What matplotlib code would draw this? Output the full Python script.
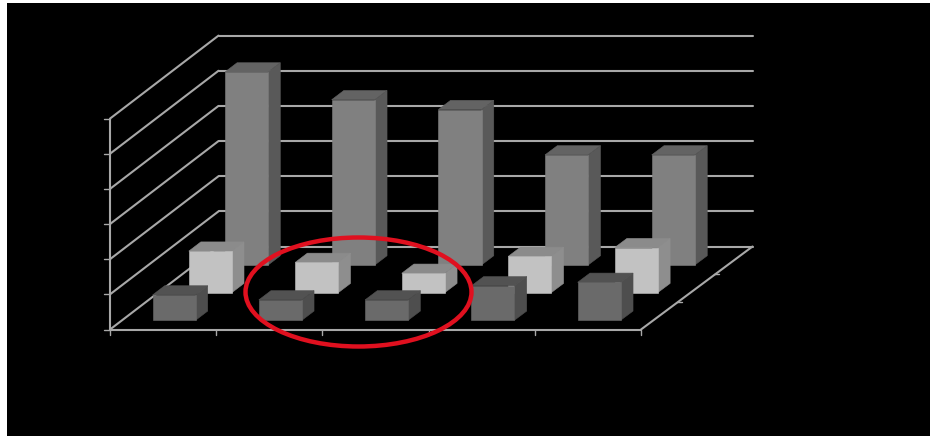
import matplotlib
matplotlib.use("Agg")
import matplotlib.pyplot as plt
from matplotlib.patches import Ellipse, Polygon

# Data (value axis has 6 unlabelled intervals)
categories = [0, 1, 2, 3, 4]
front_values = [0.72, 0.58, 0.58, 0.98, 1.08]
middle_values = [1.18, 0.86, 0.55, 1.03, 1.28]
back_values = [5.49, 4.70, 4.42, 3.13, 3.13]
value_ticks = [0, 1, 2, 3, 4, 5, 6]

# Oblique projection of the 3D chart box (slight widening towards the right)
X0, Y0 = 110, 329.5
CAT_W = 106.2
DEPTH_DX, DEPTH_DY = 108.5, -83.0
DEPTH_SKEW = 0.6
VAL_H = 35.15
BAR_W = 0.405
BAR_OFF = 0.287


def proj(cat, depth, val):
    return (X0 + cat * CAT_W + depth * (DEPTH_DX + cat * DEPTH_SKEW),
            Y0 + depth * DEPTH_DY - val * VAL_H)


W, H = 930, 436
fig = plt.figure(figsize=(W / 100, H / 100), dpi=100, facecolor="white")
ax = fig.add_axes([7 / W, 0, (W - 7) / W, (H - 3) / H])
ax.set_xlim(7, W)
ax.set_ylim(H, 3)
ax.set_facecolor("black")
ax.set_xticks([])
ax.set_yticks([])
for s in ax.spines.values():
    s.set_visible(False)

LINE = "#a8a8a8"
LW = 1.5


def seg(a, b, lw=LW, z=1):
    ax.plot([a[0], b[0]], [a[1], b[1]], color=LINE, lw=lw, zorder=z,
            solid_capstyle="round")


n_cat = len(categories)
for v in value_ticks:
    seg(proj(0, 0, v), proj(0, 1, v))
    seg(proj(0, 1, v), proj(n_cat, 1, v))
    x, y = proj(0, 0, v)
    seg((x - 6, y), (x, y), lw=1.0)
seg(proj(0, 0, 0), proj(0, 0, value_ticks[-1]))
seg(proj(0, 0, 0), proj(n_cat, 0, 0))
seg(proj(n_cat, 0, 0), proj(n_cat, 1, 0))
for c in range(n_cat + 1):
    x, y = proj(c, 0, 0)
    seg((x, y), (x, y + 5), lw=1.0)
for d in (1 / 3, 2 / 3):
    x, y = proj(n_cat, d, 0)
    seg((x - 1, y), (x + 4, y), lw=1.0)


def bar(cat, row, val, front, top, side, z):
    d0 = (row + 1 / 3) / 3
    d1 = (row + 2 / 3) / 3
    c0 = cat + BAR_OFF
    c1 = c0 + BAR_W
    ax.add_patch(Polygon([proj(c0, d0, val), proj(c1, d0, val),
                          proj(c1, d1, val), proj(c0, d1, val)],
                         closed=True, fc=top, ec=top, lw=0.4, zorder=z))
    ax.add_patch(Polygon([proj(c1, d0, 0), proj(c1, d1, 0),
                          proj(c1, d1, val), proj(c1, d0, val)],
                         closed=True, fc=side, ec=side, lw=0.4, zorder=z))
    ax.add_patch(Polygon([proj(c0, d0, 0), proj(c1, d0, 0),
                          proj(c1, d0, val), proj(c0, d0, val)],
                         closed=True, fc=front, ec=front, lw=0.4, zorder=z))


rows = [
    (2, back_values, "#808080", "#636363", "#595959"),
    (1, middle_values, "#c2c2c2", "#8b8b8b", "#8e8e8e"),
    (0, front_values, "#6a6a6a", "#525252", "#4e4e4e"),
]
z = 2
for row, vals, fc, tc, sc in rows:
    for c, v in zip(categories, vals):
        bar(c, row, v, fc, tc, sc, z)
        z += 1

ax.add_patch(Ellipse((358.5, 292), 226, 109, angle=0, fill=False,
                     ec="#e0101f", lw=3.2, zorder=100))

fig.savefig("out.png", dpi=100, facecolor=fig.get_facecolor())
